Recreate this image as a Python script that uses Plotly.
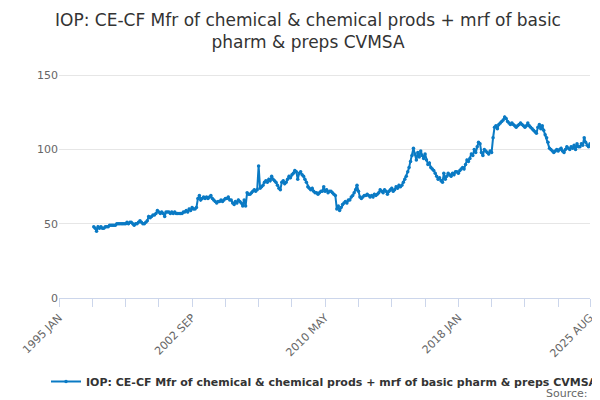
import plotly.graph_objects as go
import pandas as pd

start = "1997-01"
values = [
    48, 47, 45, 48, 47, 48, 47, 47, 48, 48, 48, 49,   # 1997
    49, 49, 49, 49, 50, 50, 50, 50, 50, 50, 50, 51,   # 1998
    50, 51, 51, 50, 49, 50, 50, 51, 52, 51, 50, 50,   # 1999
    51, 52, 55, 54, 55, 56, 56, 57, 59, 58, 57, 58,   # 2000
    57, 55, 58, 58, 58, 57, 58, 57, 58, 57, 57, 57,   # 2001
    57, 57, 58, 58, 59, 58, 60, 59, 61, 60, 60, 61,   # 2002
    67, 69, 66, 67, 68, 67, 68, 67, 68, 69, 67, 66,   # 2003
    65, 64, 65, 65, 66, 65, 66, 67, 67, 68, 66, 66,   # 2004
    64, 63, 65, 64, 66, 65, 64, 62, 66, 62, 71, 70,   # 2005
    70, 71, 72, 73, 72, 73, 89, 74, 75, 76, 78, 79,   # 2006
    78, 80, 79, 82, 80, 79, 78, 76, 74, 73, 78, 79,   # 2007
    77, 78, 80, 82, 81, 83, 84, 86, 85, 80, 84, 85,   # 2008
    83, 82, 80, 78, 75, 74, 73, 74, 72, 71, 71, 70,   # 2009
    71, 72, 72, 75, 72, 73, 71, 72, 72, 71, 70, 69,   # 2010
    60, 62, 59, 61, 63, 64, 65, 64, 66, 66, 68, 69,   # 2011
    71, 73, 76, 72, 68, 67, 68, 69, 69, 70, 69, 68,   # 2012
    69, 68, 70, 69, 70, 71, 73, 72, 71, 73, 72, 70,   # 2013
    72, 73, 74, 72, 73, 75, 74, 76, 75, 76, 78, 80,   # 2014
    82, 85, 88, 92, 96, 101, 97, 93, 98, 95, 99, 96,   # 2015
    94, 97, 93, 90, 91, 88, 87, 86, 84, 82, 80, 81,   # 2016
    79, 78, 84, 80, 82, 84, 83, 82, 84, 83, 85, 85,   # 2017
    84, 86, 87, 88, 87, 90, 93, 92, 94, 97, 96, 100,  # 2018
    98, 102, 105, 104, 98, 96, 100, 99, 98, 97, 99, 98,  # 2019
    108, 115, 116, 114, 117, 118, 119, 120, 122, 121, 119, 118,  # 2020
    117, 118, 117, 116, 115, 116, 117, 118, 117, 116, 115, 116,  # 2021
    118, 116, 115, 114, 113, 112, 111, 115, 117, 114, 116, 113,  # 2022
    110, 108, 105, 101, 100, 99, 98, 99, 100, 99, 100, 101,  # 2023
    99, 98, 100, 102, 101, 100, 102, 101, 103, 100, 104, 102,  # 2024
    102, 104, 103, 108, 105, 103, 102, 104,  # 2025
]
dates = pd.date_range(start, periods=len(values), freq="MS")

tick_vals = ["1995-01-01", "2002-09-01", "2010-05-01", "2018-01-01", "2025-08-01"]
tick_text = ["1995 JAN", "2002 SEP", "2010 MAY", "2018 JAN", "2025 AUG"]
name = "<b>IOP: CE-CF Mfr of chemical & chemical prods + mrf of basic pharm & preps CVMSA</b>"

fig = go.Figure(go.Scatter(
    x=dates, y=values, name=name, mode="lines+markers",
    line=dict(color="#0a7ac4", width=2),
    marker=dict(size=3.5, color="#0a7ac4"),
    showlegend=True,
))

fig.update_layout(
    width=600, height=400,
    margin=dict(l=46, r=17, t=60, b=108),
    paper_bgcolor="white", plot_bgcolor="white",
    font=dict(family="DejaVu Sans", color="#333"),
    title=dict(text="IOP: CE-CF Mfr of chemical & chemical prods + mrf of basic<br>pharm & preps CVMSA",
               x=0.5, y=0.955, xanchor="center", font=dict(size=17, color="#333")),
    legend=dict(orientation="h", x=0.5, xanchor="center", y=-0.30, yanchor="top",
                font=dict(size=11, color="#333")),
    annotations=[dict(text="Source:", x=1.0, xref="paper", xanchor="right",
                      y=-0.38, yref="paper", yanchor="top", showarrow=False,
                      font=dict(size=11, color="#666"))],
)
fig.update_xaxes(
    range=["1995-01-01", "2025-08-01"], tickvals=tick_vals, ticktext=tick_text,
    tickangle=-45, ticks="outside", ticklen=8, tickcolor="#ccd6eb",
    showline=True, linecolor="#ccd6eb", showgrid=False,
    tickfont=dict(size=11, color="#666"),
    minor=dict(dtick="M23", tick0="1995-01-01", ticks="outside", ticklen=8, tickcolor="#ccd6eb"),
)
fig.update_yaxes(
    range=[0, 155], tickvals=[0, 50, 100, 150], gridcolor="#e6e6e6",
    zeroline=False, tickfont=dict(size=11, color="#666"),
)

fig.write_html("out.html")
